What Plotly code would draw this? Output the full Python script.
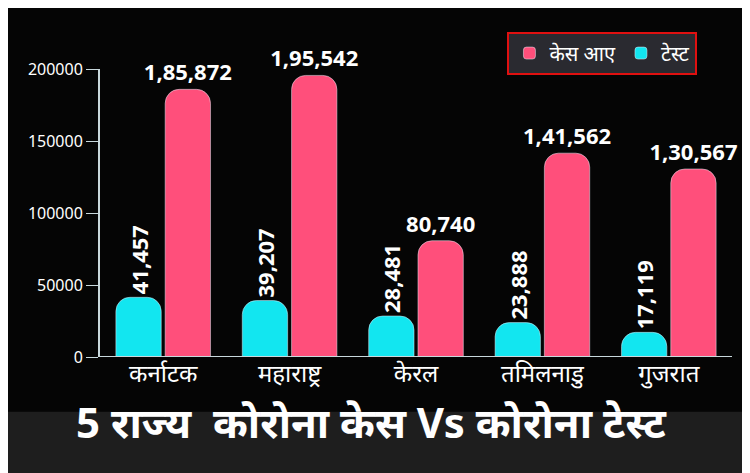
import plotly.graph_objects as go

states = ["कर्नाटक", "महाराष्ट्र", "केरल", "तमिलनाडु", "गुजरात"]
tests = [41457, 39207, 28481, 23888, 17119]
cases = [185872, 195542, 80740, 141562, 130567]
tests_lbl = ["41,457", "39,207", "28,481", "23,888", "17,119"]
cases_lbl = ["1,85,872", "1,95,542", "80,740", "1,41,562", "1,30,567"]

font = "Noto Sans, DejaVu Sans, sans-serif"
fig = go.Figure()
fig.add_bar(x=states, y=tests, name="टेस्ट", marker_color="#12E6F0",
            text=tests_lbl, texttemplate="<b>%{text}</b>", textposition="outside",
            textangle=-90, constraintext="none",
            textfont=dict(color="white", size=22, family=font), cliponaxis=False)
fig.add_bar(x=states, y=cases, name="केस आए", marker_color="#FF4F7B",
            text=cases_lbl, texttemplate="<b>%{text}</b>", textposition="outside",
            textangle=0, constraintext="none",
            textfont=dict(color="white", size=22, family=font), cliponaxis=False)
fig.update_layout(
    width=750, height=473, paper_bgcolor="#050505", plot_bgcolor="#050505",
    margin=dict(l=92, r=26, t=61, b=124, autoexpand=False),
    barmode="group", bargap=0.22, bargroupgap=0.08, barcornerradius=14,
    font=dict(family=font, color="white"),
    showlegend=True, legend_traceorder="reversed",
    legend=dict(orientation="h", x=0.795, y=1.13, xanchor="center", yanchor="top",
                bgcolor="#2a2a30", bordercolor="#E01010", borderwidth=2,
                itemwidth=30, font=dict(size=20, color="white")),
    xaxis=dict(tickfont=dict(size=24, color="white"), showline=False),
    yaxis=dict(range=[0, 200000], tickvals=[0, 50000, 100000, 150000, 200000],
               tickformat="d", tickfont=dict(size=16, color="white"),
               showgrid=False, showline=True, linecolor="#c8d8dc", linewidth=2,
               ticks="outside", tickcolor="#c8d8dc", ticklen=12, zeroline=False),
)
fig.add_shape(type="line", xref="paper", yref="y", x0=0, x1=1, y0=0, y1=0,
              line=dict(color="#c8d8dc", width=2))
fig.add_shape(type="rect", xref="paper", yref="paper", x0=-0.16, x1=1.1,
              y0=-0.45, y1=-0.19, fillcolor="#1e1e1e", line_width=0, layer="below")
fig.add_annotation(xref="paper", yref="paper", x=0.43, y=-0.33, showarrow=False,
                   text="<b>5 राज्य  कोरोना केस Vs कोरोना टेस्ट</b>",
                   font=dict(size=42, color="white", family=font))
fig.write_html("out.html")
